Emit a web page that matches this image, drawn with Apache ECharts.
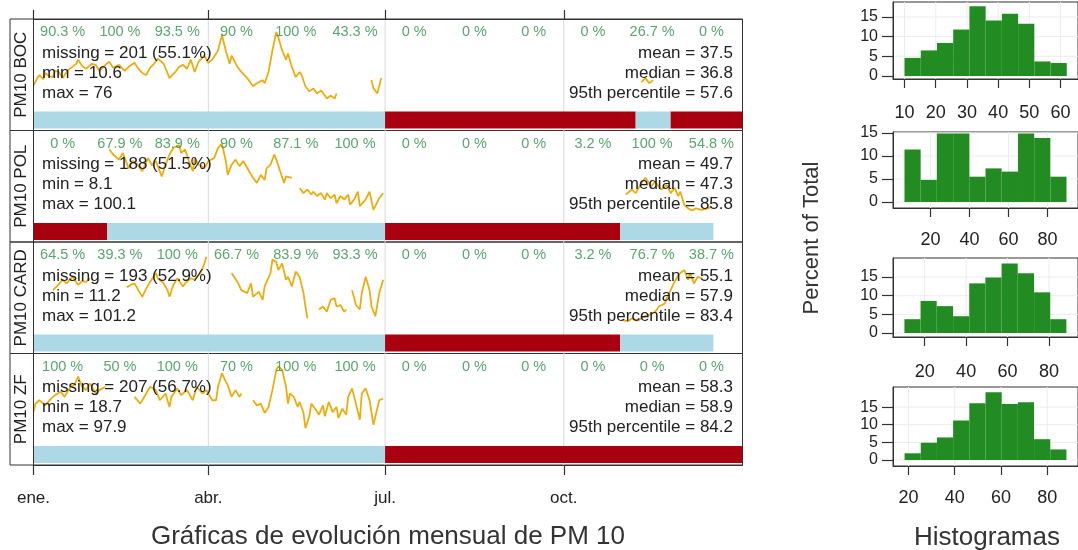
<!DOCTYPE html>
<html><head><meta charset="utf-8">
<script src="https://cdn.jsdelivr.net/npm/echarts@6/dist/echarts.min.js"></script>
<style>html,body{margin:0;padding:0;background:#fff}#chart{width:1078px;height:550px}</style>
</head><body><div id="chart"></div>
<script>
// ---------------- DATA ----------------
const stations = ['PM10 BOC', 'PM10 POL', 'PM10 CARD', 'PM10 ZF'];
const monthTicks = [0, 90, 181, 273];
const monthLabels = ['ene.', 'abr.', 'jul.', 'oct.'];
const monthMid = [15, 44.5, 74, 104.5, 135, 165.5, 196, 227, 257.5, 288, 318.5, 349];

const pctBoc  = [90.3, 100, 93.5, 90, 100, 43.3, 0, 0, 0, 0, 26.7, 0];
const pctPol  = [0, 67.9, 83.9, 90, 87.1, 100, 0, 0, 0, 3.2, 100, 54.8];
const pctCard = [64.5, 39.3, 100, 66.7, 83.9, 93.3, 0, 0, 0, 3.2, 76.7, 38.7];
const pctZf   = [100, 50, 100, 70, 100, 100, 0, 0, 0, 0, 0, 0];

const missingN   = [201, 188, 193, 207];
const missingPct = [55.1, 51.5, 52.9, 56.7];
const mins    = [10.6, 8.1, 11.2, 18.7];
const maxs    = [76, 100.1, 101.2, 97.9];
const means   = [37.5, 49.7, 55.1, 58.3];
const medians = [36.8, 47.3, 57.9, 58.9];
const p95     = [57.6, 85.8, 83.4, 84.2];

// daily PM10 [day of year, value]; null = gap
const seriesBoc = [[0,24],[2,31],[3,34],[5,30],[6,36],[8,33],[10,32],[11,38],[13,37],[15,31],[16,34],[18,39],[20,42],[22,45],[23,49],[25,43],[27,40],[30,45],[32,44],[34,38],[35,39],[37,44],[39,47],[41,41],[44,44],[47,38],[49,42],[52,46],[54,40],[56,36],[58,34],[60,41],[62,45],[64,50],[67,45],[69,36],[70,31],[73,37],[75,42],[77,44],[79,40],[81,49],[83,37],[85,47],[88,53],[90,46],[92,49],[95,58],[97,73],[99,58],[101,45],[102,53],[105,42],[107,37],[110,31],[113,23],[115,26],[118,29],[119,26],[121,37],[123,58],[125,76],[126,71],[128,58],[130,49],[131,55],[133,42],[135,32],[137,37],[138,34],[140,23],[142,18],[144,21],[146,16],[148,19],[150,14],[151,11],[153,14],[155,11],[156,16],[157,null],[174,29],[175,21],[177,16],[179,31],[180,null],[313,27],[315,31],[317,26],[319,29]];
const seriesPol = [[39,92],[41,85],[44,78],[46,87],[49,66],[51,76],[53,73],[56,62],[59,80],[61,70],[63,76],[66,55],[68,71],[70,85],[72,94],[75,98],[76,87],[78,92],[80,76],[82,62],[83,80],[85,71],[88,66],[90,76],[93,80],[95,94],[97,100],[99,76],[100,57],[102,71],[104,78],[106,69],[108,76],[111,62],[113,53],[115,46],[117,57],[119,50],[120,66],[122,71],[124,85],[125,78],[127,62],[129,46],[130,55],[131,53],[133,53],[134,null],[137,39],[139,32],[141,37],[143,30],[144,34],[146,28],[148,32],[150,23],[151,32],[153,25],[155,30],[156,18],[158,28],[160,23],[162,30],[163,16],[165,23],[167,34],[168,14],[171,23],[173,34],[175,9],[178,25],[180,32],[181,null],[305,30],[308,37],[310,32],[313,46],[315,53],[318,41],[320,48],[323,37],[326,43],[328,32],[330,39],[332,28],[333,34],[335,16],[337,11],[339,8],[341,11],[344,9],[346,10],[348,12],[349,14]];
const seriesCard = [[10,54],[12,59],[15,68],[17,63],[20,72],[23,61],[25,66],[27,65],[29,70],[30,null],[48,58],[50,61],[52,63],[54,54],[56,45],[58,56],[60,65],[63,77],[64,70],[67,63],[69,54],[70,45],[72,61],[74,70],[77,59],[78,63],[81,70],[83,68],[86,77],[88,90],[89,99],[90,null],[102,77],[105,65],[107,54],[110,50],[112,63],[113,45],[116,52],[118,41],[119,59],[122,77],[123,95],[125,92],[126,81],[128,90],[130,68],[131,72],[133,59],[135,79],[137,72],[139,50],[140,32],[141,16],[142,null],[147,28],[149,32],[151,25],[153,41],[155,43],[156,32],[158,34],[160,25],[161,28],[162,null],[164,54],[166,34],[168,28],[169,50],[171,72],[173,54],[174,32],[176,19],[178,50],[180,68],[181,null],[303,14],[306,12],[308,16],[311,13],[314,18],[317,21],[320,25],[322,32],[325,36],[326,43],[328,54],[330,65],[332,74],[333,77],[335,81],[337,68],[338,77],[340,63],[342,72],[344,70]];
const seriesZf = [[0,44],[1,54],[3,58],[6,52],[9,60],[11,64],[14,68],[16,62],[19,74],[21,76],[23,86],[25,74],[27,70],[29,78],[32,66],[34,70],[37,74],[38,null],[52,62],[55,54],[58,66],[60,74],[63,70],[65,58],[68,66],[70,50],[71,62],[74,72],[76,64],[79,70],[82,58],[84,74],[87,66],[89,70],[92,58],[94,58],[95,74],[97,90],[99,80],[100,76],[102,62],[104,70],[106,62],[107,66],[108,null],[113,58],[115,52],[117,54],[119,43],[121,50],[123,70],[125,94],[126,98],[128,94],[130,74],[131,54],[132,66],[134,62],[136,50],[137,56],[139,43],[140,25],[142,39],[143,54],[145,48],[147,41],[149,52],[150,39],[152,56],[154,44],[156,50],[157,37],[159,48],[161,41],[162,62],[164,72],[166,54],[168,35],[169,66],[171,72],[173,58],[175,29],[178,58],[180,60]];

// data capture strip: [start day, end day, 1 = data / 0 = missing]
const captureBoc  = [[0,181,1],[181,310,0],[310,328,1],[328,365,0]];
const capturePol  = [[0,38,0],[38,181,1],[181,302,0],[302,350,1]];
const captureCard = [[0,181,1],[181,302,0],[302,350,1]];
const captureZf   = [[0,181,1],[181,365,0]];

// histograms: bin breaks and percent of total
const histBreaksBoc  = [10.0, 15.2, 20.4, 25.6, 30.8, 36.0, 41.2, 46.4, 51.6, 56.8, 62.0];
const histPctBoc     = [4.6, 6.5, 8.4, 11.8, 17.7, 14.1, 15.8, 13.3, 3.7, 3.3];
const histBreaksPol  = [6.6, 14.9, 23.2, 31.6, 39.9, 48.2, 56.5, 64.9, 73.2, 81.5, 89.8];
const histPctPol     = [11.4, 4.8, 14.9, 14.9, 5.5, 7.3, 6.6, 14.9, 13.9, 5.5];
const histBreaksCard = [10.2, 18.0, 25.8, 33.7, 41.5, 49.3, 57.1, 64.9, 72.8, 80.6, 88.4];
const histPctCard    = [3.7, 8.6, 7.2, 4.5, 13.3, 14.9, 18.6, 16.0, 10.9, 3.7];
const histBreaksZf   = [18.3, 25.3, 32.3, 39.3, 46.3, 53.3, 60.3, 67.3, 74.3, 81.3, 88.3];
const histPctZf      = [1.9, 4.9, 6.4, 11.2, 16.1, 19.2, 15.9, 16.4, 5.9, 3.0];
const histXTicks = [[10, 20, 30, 40, 50, 60], [20, 40, 60, 80], [20, 40, 60, 80], [20, 40, 60, 80]];
const histYTicks = [0, 5, 10, 15];

// ---------------- LAYOUT / STYLE ----------------
const FONT = "'Liberation Sans', Arial, Helvetica, sans-serif";
const TXT = '#222';
const GREEN_TXT = '#2f9048';
const LINE_COL = '#EEAD0E';
const BLUE = '#ADD8E6';
const RED = '#A8000F';
const HIST_COL = '#228B22';
const GRIDLINE = '#d9d9d9';
const AXIS_COL = '#333';

const panelTop = [19, 130.5, 242, 353.5];
const PH = 111.5, PL = 33.5, PW = 709;
const histBox = [[2, 77], [132, 76], [258, 79], [387, 79]];
const histLabelMargin = [25, 23, 26, 23];
const HL = 893, HW = 192;
const histXRange = [[6.3, 65.6], [0.7, 95.7], [4.7, 94], [13.3, 93.3]];
const histYRange = [[-0.76, 18.8], [-1.3, 15.2], [-1.07, 20.1], [-1.7, 20.7]];

const pcts = [pctBoc, pctPol, pctCard, pctZf];
const lines = [seriesBoc, seriesPol, seriesCard, seriesZf];
const captures = [captureBoc, capturePol, captureCard, captureZf];
const hBreaks = [histBreaksBoc, histBreaksPol, histBreaksCard, histBreaksZf];
const hPcts = [histPctBoc, histPctPol, histPctCard, histPctZf];

const grids = [], xAxes = [], yAxes = [], series = [], graphics = [];

function txt(x, y, text, size, align, rot, color) {
  const el = { type: 'text', x: x, y: y, silent: true, z: 100,
    style: { text: text, font: size + 'px ' + FONT, fill: color || TXT,
      textAlign: align || 'left', textVerticalAlign: 'middle' } };
  if (rot) el.rotation = rot;
  return el;
}

for (let i = 0; i < 4; i++) {
  const T = panelTop[i];
  grids.push({ left: PL, top: T, width: PW, height: PH, show: true,
    borderColor: AXIS_COL, borderWidth: 1, backgroundColor: 'transparent' });
  const isTop = i === 0, isBottom = i === 3;
  const showAx = isTop || isBottom;
  xAxes.push({ type: 'value', gridIndex: i, min: 0, max: 365, position: isTop ? 'top' : 'bottom',
    show: showAx, z: 10,
    axisLine: { show: true, onZero: false, lineStyle: { color: AXIS_COL, width: 1 } }, splitLine: { show: false },
    axisTick: { show: true, customValues: monthTicks, length: isTop ? 9 : 10,
      lineStyle: { color: AXIS_COL, width: 1.2 } },
    axisLabel: { show: isBottom, customValues: monthTicks,
      formatter: v => monthLabels[monthTicks.indexOf(v)],
      margin: 25, fontSize: 17, color: TXT, fontFamily: FONT } });
  const mn = mins[i], mx = maxs[i], s = (mx - mn) / 67;
  yAxes.push({ type: 'value', gridIndex: i, min: mx - 98.5 * s, max: mx + 13 * s, show: false,
    axisLine: { onZero: false } });
  yAxes.push({ type: 'value', gridIndex: i, min: 0, max: 1, show: false, axisLine: { onZero: false } });

  // vertical grid lines
  series.push({ type: 'custom', xAxisIndex: i, yAxisIndex: 2 * i + 1, z: 1, silent: true,
    data: monthTicks.slice(1).map(v => [v]),
    renderItem: (p, api) => {
      const a = api.coord([api.value(0), 0]), b = api.coord([api.value(0), 1]);
      return { type: 'line', shape: { x1: a[0], y1: a[1], x2: b[0], y2: b[1] },
        style: { stroke: GRIDLINE, lineWidth: 1 } };
    } });
  // data capture strip
  series.push({ type: 'custom', xAxisIndex: i, yAxisIndex: 2 * i + 1, z: 2, silent: true,
    data: captures[i],
    renderItem: (p, api) => {
      const a = api.coord([api.value(0), 0.17]), b = api.coord([api.value(1), 0.018]);
      return { type: 'rect', shape: { x: a[0], y: a[1], width: b[0] - a[0], height: b[1] - a[1] },
        style: { fill: api.value(2) ? BLUE : RED } };
    } });
  // time series line
  series.push({ type: 'line', xAxisIndex: i, yAxisIndex: 2 * i, z: 3, silent: true,
    data: lines[i], showSymbol: false, connectNulls: false,
    lineStyle: { color: LINE_COL, width: 1.8 } });
  // monthly capture percentages
  series.push({ type: 'scatter', xAxisIndex: i, yAxisIndex: 2 * i + 1, z: 5, silent: true,
    symbolSize: 0,
    data: monthMid.map((m, k) => [m, 1 - 13 / PH, pcts[i][k]]),
    label: { show: true, position: 'inside', formatter: p => p.value[2] + ' %',
      color: GREEN_TXT, fontSize: 14.5, fontFamily: FONT } });

  // strip label box + texts
  graphics.push({ type: 'rect', shape: { x: 10, y: T, width: PL - 10, height: PH }, silent: true,
    style: { fill: 'none', stroke: AXIS_COL, lineWidth: 1 }, z: 50 });
  graphics.push(txt(21.5, T + PH / 2, stations[i], 17, 'center', Math.PI / 2));
  graphics.push(txt(42, T + 34, 'missing = ' + missingN[i] + ' (' + missingPct[i] + '%)', 17, 'left'));
  graphics.push(txt(42, T + 54, 'min = ' + mins[i], 17, 'left'));
  graphics.push(txt(42, T + 74, 'max = ' + maxs[i], 17, 'left'));
  graphics.push(txt(733, T + 34, 'mean = ' + means[i], 17, 'right'));
  graphics.push(txt(733, T + 54, 'median = ' + medians[i], 17, 'right'));
  graphics.push(txt(733, T + 74, '95th percentile = ' + p95[i], 17, 'right'));
}

for (let i = 0; i < 4; i++) {
  const g = 4 + i;
  const [top, h] = histBox[i];
  const [x0, x1] = histXRange[i], [y0, y1] = histYRange[i];
  grids.push({ left: HL, top: top, width: HW, height: h, show: true,
    borderColor: AXIS_COL, borderWidth: 1, backgroundColor: 'transparent' });
  xAxes.push({ type: 'value', gridIndex: g, min: x0, max: x1, position: 'bottom', z: 10,
    axisLine: { show: true, onZero: false, lineStyle: { color: AXIS_COL, width: 1 } }, splitLine: { show: false },
    axisTick: { show: true, customValues: histXTicks[i], length: 9, lineStyle: { color: AXIS_COL, width: 1.2 } },
    axisLabel: { show: true, customValues: histXTicks[i], margin: histLabelMargin[i], fontSize: 18, color: TXT, fontFamily: FONT } });
  yAxes.push({ type: 'value', gridIndex: g, min: y0, max: y1, position: 'left', z: 10,
    axisLine: { show: true, onZero: false, lineStyle: { color: AXIS_COL, width: 1 } }, splitLine: { show: false },
    axisTick: { show: true, customValues: histYTicks, length: 11, lineStyle: { color: AXIS_COL, width: 1.2 } },
    axisLabel: { show: true, customValues: histYTicks, margin: 15, fontSize: 16, color: TXT, fontFamily: FONT } });
  // grid lines
  const gl = histXTicks[i].map(v => [0, v]).concat(histYTicks.map(v => [1, v]));
  series.push({ type: 'custom', xAxisIndex: g, yAxisIndex: 8 + i, z: 1, silent: true, data: gl,
    renderItem: (p, api) => {
      let a, b;
      if (api.value(0) === 0) { a = api.coord([api.value(1), y0]); b = api.coord([api.value(1), y1]); }
      else { a = api.coord([x0, api.value(1)]); b = api.coord([x1, api.value(1)]); }
      return { type: 'line', shape: { x1: a[0], y1: a[1], x2: b[0], y2: b[1] },
        style: { stroke: '#ececec', lineWidth: 1 } };
    } });
  const br = hBreaks[i];
  series.push({ type: 'custom', xAxisIndex: g, yAxisIndex: 8 + i, z: 2, silent: true,
    data: hPcts[i].map((v, k) => [br[k], br[k + 1], v]),
    renderItem: (p, api) => {
      const a = api.coord([api.value(0), api.value(2)]), b = api.coord([api.value(1), 0]);
      return { type: 'rect', shape: { x: a[0], y: a[1], width: b[0] - a[0], height: b[1] - a[1] },
        style: { fill: HIST_COL } };
    } });
}

graphics.push(txt(388, 537, 'Gráficas de evolución mensual de PM 10', 26, 'center', 0, '#333'));
graphics.push(txt(987, 538, 'Histogramas', 26, 'center', 0, '#333'));
graphics.push(txt(812, 238, 'Percent of Total', 22, 'center', Math.PI / 2, '#333'));

const chart = echarts.init(document.getElementById('chart'), null, { renderer: 'canvas', width: 1078, height: 550 });
chart.setOption({
  animation: false,
  backgroundColor: '#fff',
  grid: grids, xAxis: xAxes, yAxis: yAxes, series: series, graphic: graphics
});
</script>
</body></html>
